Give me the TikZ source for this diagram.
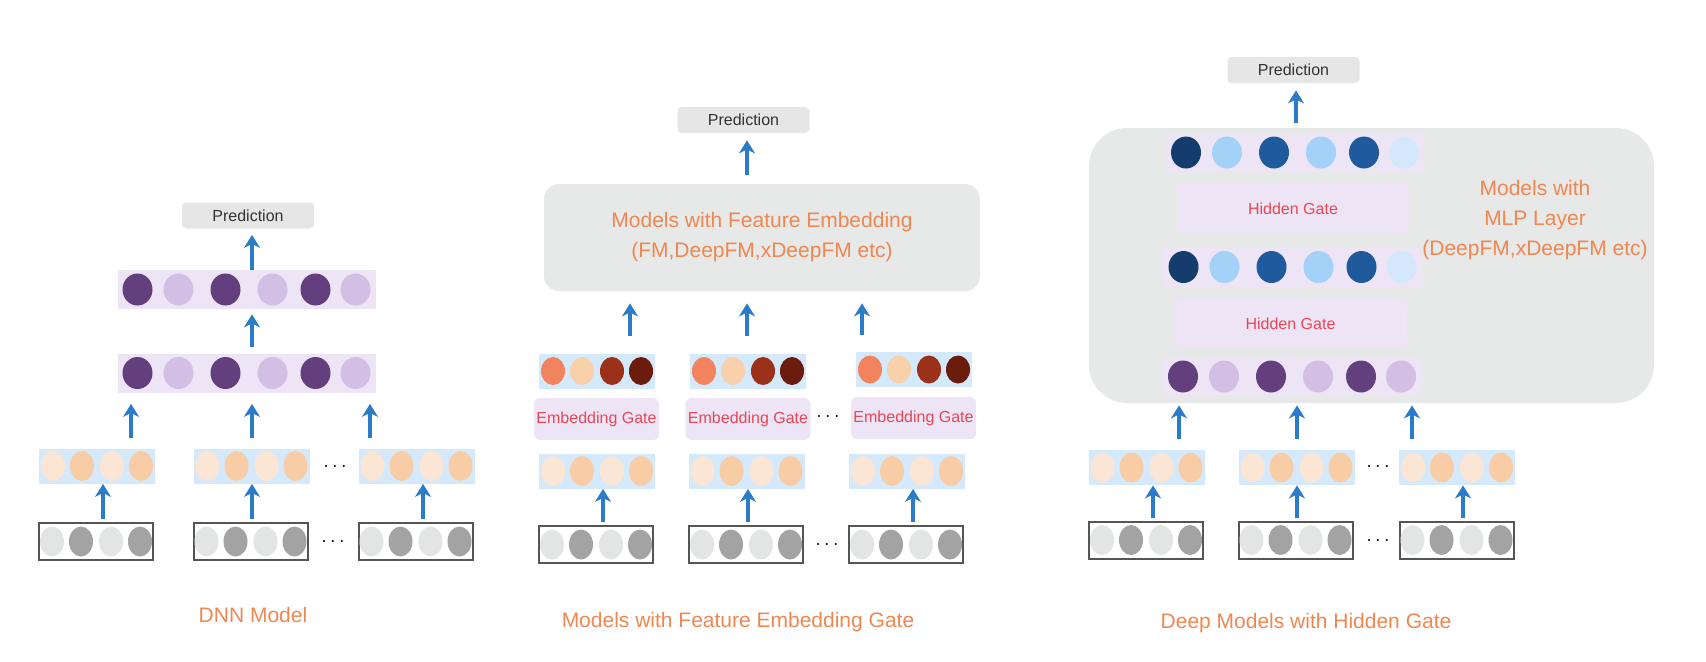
\documentclass[tikz,border=0pt]{standalone}
\usepackage{fontspec}
\setmainfont{Liberation Sans}
\usepackage{tikz}
\usetikzlibrary{shapes.geometric}
\usetikzlibrary{arrows.meta}
\usepackage{xcolor}

\definecolor{arrowblue}{RGB}{43,123,200}
\definecolor{predgrey}{RGB}{230,230,230}
\definecolor{textgrey}{RGB}{51,51,51}
\definecolor{boxgrey}{RGB}{231,232,232}
\definecolor{edgegrey}{RGB}{85,85,85}
\definecolor{lavender}{RGB}{237,229,245}
\definecolor{rowblue}{RGB}{212,233,251}
\definecolor{orangetext}{RGB}{240,135,80}
\definecolor{gatered}{RGB}{235,70,85}
\definecolor{greylt}{RGB}{227,228,228}
\definecolor{greydk}{RGB}{163,163,163}
\definecolor{peachlt}{RGB}{251,230,214}
\definecolor{peach}{RGB}{248,205,166}
\definecolor{salmon}{RGB}{241,132,95}
\definecolor{peachmid}{RGB}{248,208,170}
\definecolor{rust}{RGB}{154,49,24}
\definecolor{maroon}{RGB}{108,28,12}
\definecolor{plumdk}{RGB}{99,63,126}
\definecolor{plumlt}{RGB}{211,191,227}
\definecolor{navy}{RGB}{20,60,108}
\definecolor{bluemid}{RGB}{31,91,156}
\definecolor{bluelt}{RGB}{163,209,248}
\definecolor{bluepale}{RGB}{213,232,251}

\begin{document}
\begin{tikzpicture}[x=0.5pt, y=-0.5pt,
		pred/.style={fill=predgrey, rounded corners=2pt, minimum width=66pt, minimum height=13pt, inner sep=0pt, text=textgrey, font=\fontsize{8}{10}\selectfont},
		inrow/.style={draw=edgegrey, line width=1pt, minimum width=57pt, minimum height=18.5pt, inner sep=0pt},
		embrow/.style={fill=rowblue, minimum width=58pt, minimum height=17.5pt, inner sep=0pt},
		hidrow/.style={fill=lavender, minimum width=129pt, minimum height=19.5pt, inner sep=0pt},
		gate/.style={fill=lavender, rounded corners=3pt, inner sep=0pt, text=gatered, font=\fontsize{8}{10}\selectfont},
		bead/.style={ellipse, inner sep=0pt, minimum width=12pt, minimum height=15pt},
		ball/.style={ellipse, inner sep=0pt, minimum width=15pt, minimum height=16pt},
		up/.style={draw=arrowblue, line width=1.8pt, -{Stealth[length=6.5pt, width=8pt, inset=2pt]}},
		title/.style={text=orangetext, align=center, font=\fontsize{10.5}{15}\selectfont},
		dots/.style={font=\fontsize{10}{12}\selectfont}]
	\useasboundingbox (0,0) rectangle (1706,661);

	\node[fill=boxgrey, rounded corners=7.5pt, minimum width=218pt, minimum height=53.5pt, title] (big2) at (762,237.5) {Models with Feature Embedding\\(FM,DeepFM,xDeepFM etc)};
	\node[fill=boxgrey, rounded corners=19pt, minimum width=282.5pt, minimum height=137.5pt] (big3) at (1371.5,265.5) {};
	\node[title] (mlp) at (1535,220) {Models with\\MLP Layer\\(DeepFM,xDeepFM etc)};

	\node[pred] (pred1) at (248,215.5) {Prediction};
	\node[pred] (pred2) at (743.5,120) {Prediction};
	\node[pred] (pred3) at (1293.5,70) {Prediction};

	\foreach \r/\x/\y in {g1a/96/541.5, g1b/250.5/541.5, g1c/415.5/541.5, g2a/596/544.5, g2b/746/544.5, g2c/906/544.5, g3a/1146/540, g3b/1295.5/540, g3c/1456.5/540}{
		\node[inrow] (\r) at (\x,\y) {};
		\foreach \k/\dx/\c in {1/-44/greylt, 2/-15/greydk, 3/15/greylt, 4/44/greydk}
			\node[bead, fill=\c] (\r-\k) at (\x+\dx,\y) {};
	}
	\foreach \r/\x/\y in {o1a/97/466, o1b/251.5/466, o1c/416.5/466, o2a/597/471, o2b/746.5/471, o2c/907/471, o3a/1146.5/467.5, o3b/1296.5/467.5, o3c/1457/467.5}{
		\node[embrow] (\r) at (\x,\y) {};
		\foreach \k/\dx/\c in {1/-44/peachlt, 2/-15/peach, 3/15/peachlt, 4/44/peach}
			\node[bead, fill=\c] (\r-\k) at (\x+\dx,\y) {};
	}
	\foreach \r/\x/\y in {e2a/597/371, e2b/748/371, e2c/914/369.5}{
		\node[embrow] (\r) at (\x,\y) {};
		\foreach \k/\dx/\c in {1/-44/salmon, 2/-15/peachmid, 3/15/rust, 4/44/maroon}
			\node[bead, fill=\c, minimum height=14pt] (\r-\k) at (\x+\dx,\y) {};
	}
	\foreach \r/\x/\y in {gate2a/596.5/419, gate2b/748/419, gate2c/913.5/418}
		\node[gate, minimum width=62.5pt, minimum height=21pt] (\r) at (\x,\y) {Embedding Gate};

	\foreach \r/\x/\y in {h1a/246.5/373, h1b/246.5/289.5, h3a/1292/376.5}{
		\node[hidrow] (\r) at (\x,\y) {};
		\foreach \k/\dx/\c in {1/-109/plumdk, 2/-68/plumlt, 3/-21/plumdk, 4/26/plumlt, 5/69/plumdk, 6/109/plumlt}
			\node[ball, fill=\c] (\r-\k) at (\x+\dx,\y) {};
	}
	\foreach \r/\x/\y in {h3b/1292.5/267, h3c/1295/152.5}{
		\node[hidrow] (\r) at (\x,\y) {};
		\foreach \k/\dx/\c in {1/-109/navy, 2/-68/bluelt, 3/-21/bluemid, 4/26/bluelt, 5/69/bluemid, 6/109/bluepale}
			\node[ball, fill=\c] (\r-\k) at (\x+\dx,\y) {};
	}
	\node[gate, minimum width=116pt, minimum height=24.5pt] (hgate1) at (1293,208.5) {Hidden Gate};
	\node[gate, minimum width=116.5pt, minimum height=23.5pt] (hgate2) at (1290.5,323.5) {Hidden Gate};

	\foreach \d/\x/\y in {dots1a/335/467, dots1b/333/542, dots2a/828/417, dots2b/827/545, dots3a/1378/467, dots3b/1378/541}
		\node[dots] (\d) at (\x,\y) {$\cdots$};

	\foreach \a/\b/\s in {g1a/o1a/3.5, g1b/o1b/0.75, g1c/o1c/3.75, g2a/o2a/3.5, g2b/o2b/1, g2c/o2c/3.5, g3a/o3a/3.5, g3b/o3b/0.75, g3c/o3c/3.25}
		\draw[up, shorten <=1.5pt] ([xshift=\s pt]\a.north) -- ([xshift=\s pt]\a.north |- \b.south);
	\foreach \a/\s in {o1a/17, o1b/0.25, o1c/-23.25}
		\draw[up, shorten <=5pt, shorten >=5.5pt] ([xshift=\s pt]\a.north) -- ([xshift=\s pt]\a.north |- h1a.south);
	\foreach \a/\s in {e2a/16.5, e2b/-0.5, e2c/-26}
		\draw[up, shorten <=8.5pt, shorten >=6pt] ([xshift=\s pt]\a.north) -- ([xshift=\s pt]\a.north |- big2.south);
	\foreach \a/\s in {o3a/16.25, o3b/0.25, o3c/-22.5}
		\draw[up, shorten <=5.5pt, shorten >=1pt] ([xshift=\s pt]\a.north) -- ([xshift=\s pt]\a.north |- big3.south);

	\draw[up, shorten <=3pt, shorten >=2.5pt] ([xshift=2.75pt]h1a.north) -- ([xshift=2.75pt]h1b.south);
	\draw[up, shorten >=3pt] ([xshift=2.75pt]h1b.north) -- ([xshift=2.75pt]h1b.north |- pred1.south);
	\draw[up, shorten <=4.5pt, shorten >=3.5pt] ([xshift=1.75pt]big2.north -| pred2.south) -- ([xshift=1.75pt]pred2.south);
	\draw[up, shorten <=2.5pt, shorten >=3.5pt] ([xshift=1.25pt]big3.north -| pred3.south) -- ([xshift=1.25pt]pred3.south);

	\node[title] (cap1) at (253,615) {DNN Model};
	\node[title] (cap2) at (738,622) {Models with Feature Embedding Gate};
	\node[title] (cap3) at (1306,623) {Deep Models with Hidden Gate};
\end{tikzpicture}
\end{document}
